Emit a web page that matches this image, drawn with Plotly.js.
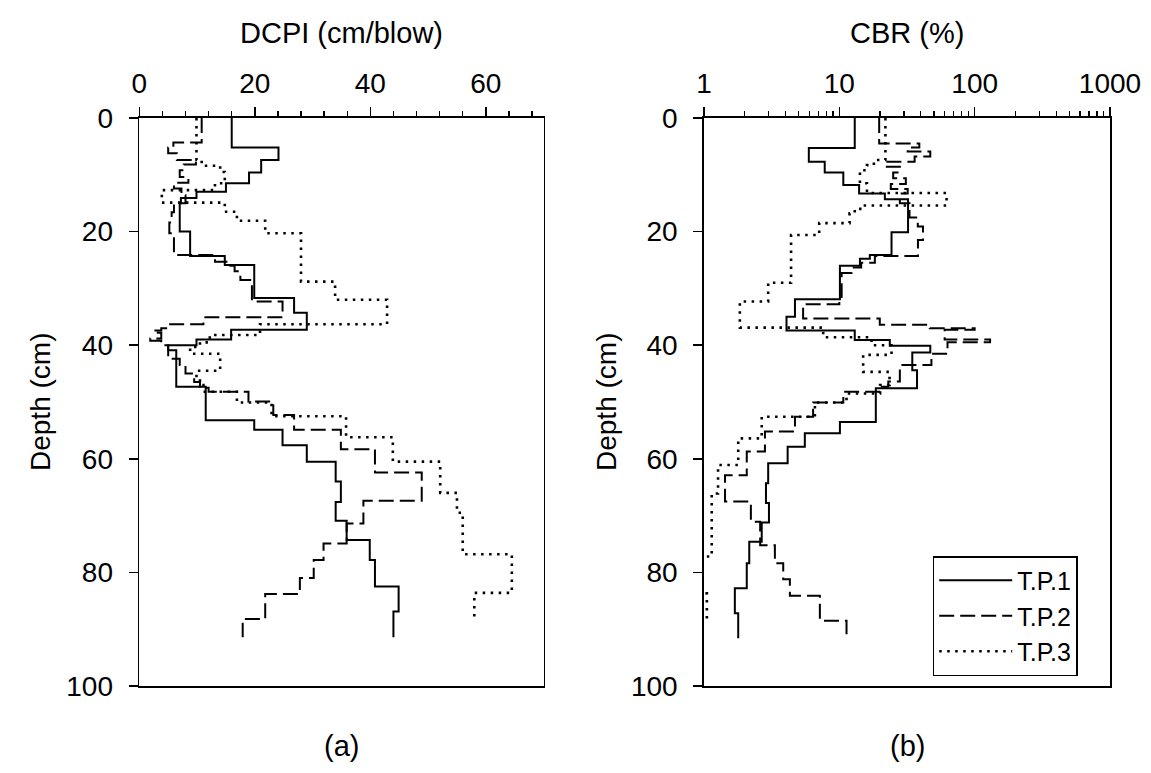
<!DOCTYPE html>
<html>
<head>
<meta charset="utf-8">
<script src="https://cdn.plot.ly/plotly-3.0.1.min.js"></script>
<style>
html,body{margin:0;padding:0;background:#fff;}
#chart{width:1151px;height:773px;}
</style>
</head>
<body>
<div id="chart"></div>
<script>
// ---------- Panel (a): DCPI (cm/blow) step profiles; depth = top of each layer, last = end depth ----------
const tp1DepthA = [0, 5.2, 7.4, 9.6, 11.5, 13.0, 14.1, 15.0, 20.0, 24.3, 25.9, 31.7, 34.3, 37.3, 39.0, 40.0, 40.9, 47.3, 53.2, 54.9, 57.6, 60.5, 64.0, 67.6, 70.9, 74.3, 77.8, 82.5, 86.9, 91.4];
const tp1Dcpi   = [16.0, 24.1, 21.1, 19.0, 15.0, 9.9, 7.2, 7.0, 8.8, 14.8, 19.9, 26.8, 29.0, 15.9, 9.9, 5.0, 6.4, 11.5, 19.9, 24.8, 29.0, 34.0, 34.9, 34.0, 35.9, 39.9, 40.8, 44.9, 44.0];

const tp2DepthA = [0, 4.3, 5.2, 6.2, 7.4, 8.2, 9.2, 10.4, 11.4, 12.4, 13.6, 15.0, 16.6, 18.4, 20.3, 24.1, 25.3, 26.0, 27.0, 28.5, 32.3, 35.1, 36.3, 37.0, 37.4, 37.8, 38.8, 39.2, 40.0, 42.4, 43.5, 45.0, 46.5, 47.5, 48.2, 49.9, 52.3, 54.9, 58.3, 62.4, 67.4, 71.4, 74.9, 77.8, 81.0, 83.8, 88.2, 91.4];
const tp2Dcpi   = [10.8, 5.9, 5.0, 6.5, 9.8, 7.7, 7.0, 8.5, 6.0, 7.3, 8.0, 6.0, 5.6, 5.2, 6.0, 13.1, 15.5, 16.5, 17.5, 19.5, 24.8, 11.1, 5.0, 3.8, 2.5, 3.8, 1.9, 3.8, 5.0, 7.0, 8.0, 9.5, 10.5, 12.0, 18.9, 23.2, 26.8, 34.9, 40.8, 48.9, 38.8, 35.9, 31.9, 30.2, 27.8, 21.8, 17.9];

const tp3DepthA = [0, 7.4, 8.4, 9.5, 11.5, 12.7, 14.9, 16.5, 18.1, 20.3, 28.8, 32.0, 36.3, 38.2, 39.5, 40.3, 41.5, 44.5, 46.0, 47.0, 48.2, 50.1, 52.5, 56.2, 60.5, 66.0, 69.5, 76.8, 83.6, 88.4];
const tp3Dcpi   = [9.9, 10.8, 14.0, 14.8, 13.1, 3.9, 14.8, 16.9, 21.8, 28.0, 33.9, 42.9, 20.9, 12.2, 10.5, 8.8, 14.0, 9.9, 10.5, 11.1, 16.9, 22.9, 35.8, 43.9, 52.1, 55.0, 56.0, 64.5, 58.0];

// ---------- Panel (b): CBR (%) step profiles ----------
const tp1DepthB = [0, 5.3, 7.7, 9.6, 11.8, 13.3, 14.3, 20.1, 24.1, 24.8, 26.0, 31.9, 35.0, 37.4, 39.1, 40.1, 41.3, 44.4, 47.6, 53.5, 55.5, 57.9, 60.8, 64.3, 67.8, 71.2, 74.6, 78.4, 82.8, 87.2, 91.6];
const tp1Cbr    = [13.0, 5.95, 7.8, 10.7, 14.0, 21.7, 32.2, 24.3, 16.8, 14.2, 10.1, 4.7, 4.07, 13.0, 23.6, 47, 34.6, 37.5, 18.6, 10.1, 5.56, 4.15, 2.98, 2.87, 3.02, 2.67, 2.16, 2.07, 1.69, 1.79];

const tp2DepthB = [0, 4.5, 5.2, 5.9, 6.8, 7.7, 8.6, 9.6, 10.6, 11.6, 12.5, 13.3, 15.0, 17.5, 19.1, 21.5, 24.3, 25.5, 26.3, 27.3, 31.5, 32.8, 35.3, 36.4, 37.0, 37.3, 39.0, 39.5, 41.5, 43.5, 46.4, 47.3, 48.2, 50.1, 52.6, 55.2, 58.7, 62.9, 67.5, 71.1, 75.2, 78.4, 81.2, 84.1, 88.5, 91.0];
const tp2Cbr    = [19.7, 39, 32, 47, 36, 22, 28, 25, 31, 24, 32, 28, 33, 38, 41.5, 38.1, 18.3, 14.5, 12.3, 10.4, 10.0, 5.4, 19.9, 46.6, 100, 60, 130, 63, 47.9, 28, 23, 20, 10.7, 6.4, 4.7, 2.82, 2.07, 1.43, 2.22, 2.6, 3.34, 3.85, 4.31, 7.18, 11.3];

const tp3DepthB = [0, 7.4, 8.3, 9.2, 11.5, 13.2, 15.4, 16.0, 16.8, 18.5, 20.6, 29.0, 32.3, 36.9, 38.6, 40.0, 41.7, 44.7, 47.0, 48.5, 50.1, 52.6, 56.4, 61.1, 66.1, 77.2, 83.7, 88.4];
const tp3Cbr    = [21.9, 18, 16, 14.2, 16.0, 62, 15.0, 13, 11.9, 7.1, 4.4, 2.98, 1.84, 7.6, 17.3, 24.3, 15.0, 23.5, 20, 11.3, 6.6, 2.67, 1.79, 1.27, 1.14, 0.9, 1.05];

// ---------- labels & ticks ----------
const seriesNames = ['T.P.1', 'T.P.2', 'T.P.3'];
const depthTicks = [0, 20, 40, 60, 80, 100];
const dcpiTicks = [0, 20, 40, 60];
const cbrTicks = [1, 10, 100, 1000];
const cbrTickText = ['1', '10', '100', '1000'];
const cbrMinorTicks = [2,3,4,5,6,7,8,9,20,30,40,50,60,70,80,90,200,300,400,500,600,700,800,900];

const FONT = 'Liberation Sans, Arial, Helvetica, sans-serif';
const styles = [
  {dash: 'solid', width: 2},
  {dash: '15px,6px', width: 2},
  {dash: '2.5px,5.5px', width: 2.6}
];

function stepTrace(depths, vals, idx, xa, ya, show) {
  return {
    type: 'scatter', mode: 'lines',
    x: vals.concat([vals[vals.length - 1]]),
    y: depths,
    name: seriesNames[idx],
    xaxis: xa, yaxis: ya,
    showlegend: show,
    hoverinfo: 'skip',
    line: {shape: 'vh', color: '#000', width: styles[idx].width, dash: styles[idx].dash}
  };
}

const data = [
  stepTrace(tp1DepthA, tp1Dcpi, 0, 'x', 'y', false),
  stepTrace(tp2DepthA, tp2Dcpi, 1, 'x', 'y', false),
  stepTrace(tp3DepthA, tp3Dcpi, 2, 'x', 'y', false),
  stepTrace(tp1DepthB, tp1Cbr, 0, 'x2', 'y2', true),
  stepTrace(tp2DepthB, tp2Cbr, 1, 'x2', 'y2', true),
  stepTrace(tp3DepthB, tp3Cbr, 2, 'x2', 'y2', true)
];

const W = 1151, H = 773;
const yDom = [(H - 686) / H, (H - 118) / H];
const common = {
  showline: true, linecolor: '#000', linewidth: 1.7, mirror: true,
  ticks: 'outside', ticklen: 9, tickwidth: 1.6, tickcolor: '#000',
  showgrid: false, zeroline: false,
  tickfont: {family: FONT, size: 28, color: '#000'}
};

const layout = {
  width: W, height: H,
  margin: {l: 0, r: 0, t: 0, b: 0},
  paper_bgcolor: '#fff', plot_bgcolor: '#fff',
  font: {family: FONT, color: '#000'},
  xaxis: Object.assign({}, common, {
    domain: [139.3 / W, 543.6 / W], anchor: 'y', side: 'top', range: [0, 70],
    tickmode: 'array', tickvals: dcpiTicks, ticklabelstandoff: 3,
    minor: {tickmode: 'linear', tick0: 0, dtick: 4, ticks: 'outside', ticklen: 5, tickwidth: 1.3, tickcolor: '#000'}
  }),
  yaxis: Object.assign({}, common, {
    domain: yDom, anchor: 'x', range: [100, 0], tickmode: 'array', tickvals: depthTicks, ticklabelstandoff: 10
  }),
  xaxis2: Object.assign({}, common, {
    domain: [704 / W, 1110 / W], anchor: 'y2', side: 'top', type: 'log', range: [0, 3],
    tickmode: 'array', tickvals: cbrTicks, ticktext: cbrTickText, ticklabelstandoff: 3,
    minor: {tickmode: 'array', tickvals: cbrMinorTicks, ticks: 'outside', ticklen: 5, tickwidth: 1.3, tickcolor: '#000'}
  }),
  yaxis2: Object.assign({}, common, {
    domain: yDom, anchor: 'x2', range: [100, 0], tickmode: 'array', tickvals: depthTicks, ticklabelstandoff: 10
  }),
  showlegend: true,
  legend: {
    x: 932.7 / W, y: (H - 556) / H, xanchor: 'left', yanchor: 'top',
    bordercolor: '#000', borderwidth: 1.5, bgcolor: '#fff',
    font: {family: FONT, size: 25, color: '#000'},
    itemwidth: 73, tracegroupgap: 0, entrywidth: 103, entrywidthmode: 'pixels'
  },
  annotations: [
    {text: 'DCPI (cm/blow)', xref: 'paper', yref: 'paper', x: 341 / W, y: (H - 33) / H, showarrow: false, xanchor: 'center', yanchor: 'middle', font: {family: FONT, size: 29}},
    {text: 'CBR (%)', xref: 'paper', yref: 'paper', x: 907 / W, y: (H - 33) / H, showarrow: false, xanchor: 'center', yanchor: 'middle', font: {family: FONT, size: 29}},
    {text: 'Depth (cm)', xref: 'paper', yref: 'paper', x: 40 / W, y: (H - 402) / H, showarrow: false, textangle: -90, xanchor: 'center', yanchor: 'middle', font: {family: FONT, size: 28}},
    {text: 'Depth (cm)', xref: 'paper', yref: 'paper', x: 606 / W, y: (H - 402) / H, showarrow: false, textangle: -90, xanchor: 'center', yanchor: 'middle', font: {family: FONT, size: 28}},
    {text: '(a)', xref: 'paper', yref: 'paper', x: 341 / W, y: (H - 746) / H, showarrow: false, xanchor: 'center', yanchor: 'middle', font: {family: FONT, size: 29}},
    {text: '(b)', xref: 'paper', yref: 'paper', x: 907 / W, y: (H - 746) / H, showarrow: false, xanchor: 'center', yanchor: 'middle', font: {family: FONT, size: 29}}
  ]
};

Plotly.newPlot('chart', data, layout, {staticPlot: true, displayModeBar: false});
</script>
</body>
</html>
